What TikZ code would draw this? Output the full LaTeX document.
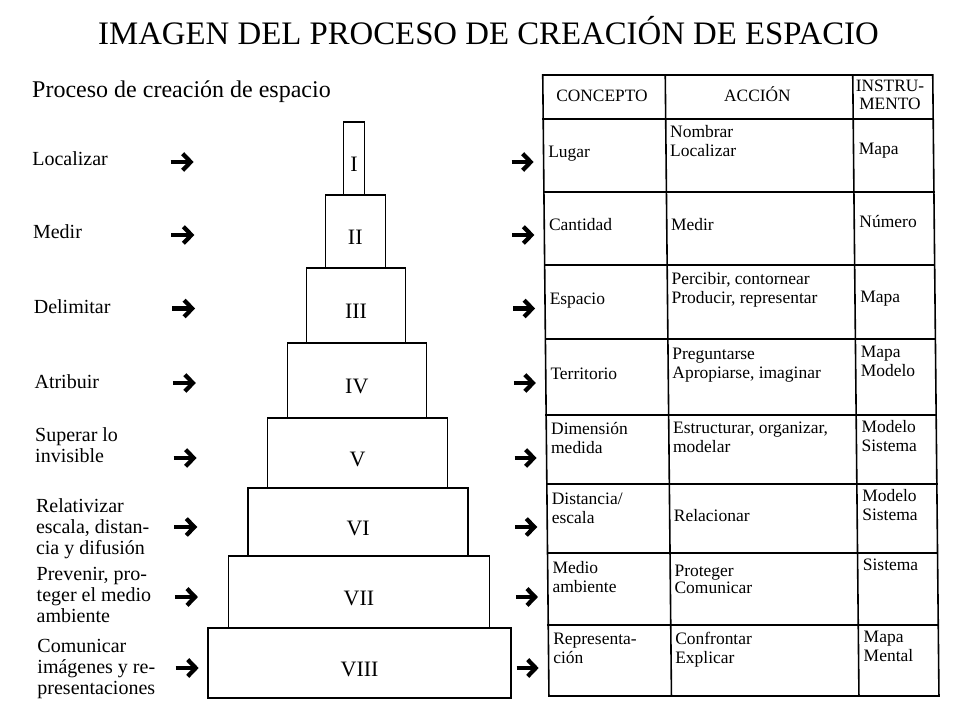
\documentclass[tikz,border=0pt]{standalone}
\usepackage{fontspec}
\setmainfont{Liberation Serif}
\usepackage{tikz}
\usetikzlibrary{calc, arrows.meta}
\tikzset{
    titlenode/.style = {draw=none, fill=none, rectangle, inner sep=0em, anchor=base west},
    labelnode/.style = {draw=none, fill=none, rectangle, inner sep=0em, anchor=west, align=left,
      font=\fontsize{15pt}{15.75pt}\selectfont},
    stepnode/.style = {draw, rectangle, fill=none, inner sep=0em, line width=1.1pt,
      text height=20pt, text depth=0pt, font=\fontsize{16.5pt}{18pt}\selectfont},
    cellnode/.style = {draw=none, fill=none, rectangle, inner sep=0em, anchor=west, align=left,
      font=\fontsize{13.1pt}{14.25pt}\selectfont},
    headnode/.style = {cellnode, anchor=center, align=center, font=\fontsize{13pt}{13.5pt}\selectfont},
    bigarrow/.style = {line width=3.6pt, -{Straight Barb[length=6pt, width=12.5pt, line width=3.2pt]}},
    gridline/.style = {line width=1.2pt, line cap=rect}
}

\begin{document}
\begin{tikzpicture}[x=0.75pt, y=-0.75pt]
    \path [use as bounding box, fill=white] (0,0) rectangle (960,720);
    \begin{scope}[xslant=-0.01]
    % titles
    \node [name = T, titlenode, font=\fontsize{24.6pt}{28pt}\selectfont] at (97.5,44.5) {IMAGEN DEL PROCESO DE CREACIÓN DE ESPACIO};
    \node [name = S, titlenode, font=\fontsize{18pt}{20pt}\selectfont] at (31,98) {Proceso de creación de espacio};

    % left column
    \node [name = L1, labelnode] at (30.5,158.2) {Localizar};
    \node [name = L2, labelnode] at (30.5,231.2) {Medir};
    \node [name = L3, labelnode] at (30.5,306.2) {Delimitar};
    \node [name = L4, labelnode] at (30.5,381.2) {Atribuir};
    \node [name = L5, labelnode] at (30.5,445.5) {Superar lo\\invisible};
    \node [name = L6, labelnode] at (30.5,528.8) {Relativizar\\escala, distan-\\cia y difusión};
    \node [name = L7, labelnode] at (30.5,594.6) {Prevenir, pro-\\teger el medio\\ambiente};
    \node [name = L8, labelnode] at (30.5,668.8) {Comunicar\\imágenes y re-\\presentaciones};

    % pyramid
    \node [name = P1, stepnode, minimum width=15.75pt, minimum height=54.75pt] at (352.5,158.5) {I};
    \node [name = P2, stepnode, minimum width=45pt, minimum height=54.75pt] at (353,231.5) {II};
    \node [name = P3, stepnode, minimum width=74.25pt, minimum height=56.25pt] at (353,305.5) {III};
    \node [name = P4, stepnode, minimum width=104.25pt, minimum height=56.25pt] at (353,380.5) {IV};
    \node [name = P5, stepnode, minimum width=135pt, minimum height=52.5pt] at (353,453) {V};
    \node [name = P6, stepnode, minimum width=165pt, minimum height=51pt] at (353,522) {VI};
    \node [name = P7, stepnode, minimum width=195.75pt, minimum height=54pt] at (353,592) {VII};
    \node [name = P8, stepnode, minimum width=227.25pt, minimum height=52.5pt] at (353,663) {VIII};

    % arrows
    \draw [bigarrow] ($(P1)+(-183.5,3.5)$) -- ++(23,0);
    \draw [bigarrow] ($(P2)+(-184,3.5)$) -- ++(23,0);
    \draw [bigarrow] ($(P3)+(-184,3)$) -- ++(23,0);
    \draw [bigarrow] ($(P4)+(-184,2.5)$) -- ++(23,0);
    \draw [bigarrow] ($(P5)+(-184,5)$) -- ++(23,0);
    \draw [bigarrow] ($(P6)+(-184,5)$) -- ++(23,0);
    \draw [bigarrow] ($(P7)+(-184,5)$) -- ++(23,0);
    \draw [bigarrow] ($(P8)+(-184,5)$) -- ++(23,0);
    \draw [bigarrow] ($(P1)+(157.5,3.5)$) -- ++(22,0);
    \draw [bigarrow] ($(P2)+(157,3.5)$) -- ++(22,0);
    \draw [bigarrow] ($(P3)+(157,3)$) -- ++(22,0);
    \draw [bigarrow] ($(P4)+(157,2.5)$) -- ++(22,0);
    \draw [bigarrow] ($(P5)+(157,5)$) -- ++(22,0);
    \draw [bigarrow] ($(P6)+(157,5)$) -- ++(22,0);
    \draw [bigarrow] ($(P7)+(157,5)$) -- ++(22,0);
    \draw [bigarrow] ($(P8)+(157,5)$) -- ++(22,0);

    % table grid
    \draw [gridline] (542,75) -- (932,75) -- (932,696) -- (542,696) -- cycle;
    \draw [gridline] (664.5,75) -- (664.5,696);
    \draw [gridline] (852,75) -- (852,696);
    \draw [gridline] (542,119) -- (932,119);
    \draw [gridline] (542,192) -- (932,192);
    \draw [gridline] (542,265) -- (932,265);
    \draw [gridline] (542,339) -- (932,339);
    \draw [gridline] (542,415) -- (932,415);
    \draw [gridline] (542,484) -- (932,484);
    \draw [gridline] (542,553) -- (932,553);
    \draw [gridline] (542,625) -- (932,625);

    % table header
    \node [name = C0, headnode] at (601,96) {CONCEPTO};
    \node [name = A0, headnode] at (756.5,93.7) {ACCIÓN};
    \node [name = I0, headnode] at (889,95.2) {INSTRU-\\MENTO};

    % table cells
    \node [name = C1, cellnode] at (546.5,154) {Lugar};
    \node [name = A1, cellnode] at (668.5,141.5) {Nombrar\\Localizar};
    \node [name = I1, cellnode] at (857,151) {Mapa};
    \node [name = C2, cellnode] at (546.5,225) {Cantidad};
    \node [name = A2, cellnode] at (668.5,225) {Medir};
    \node [name = I2, cellnode] at (857,222) {Número};
    \node [name = C3, cellnode] at (546.5,301) {Espacio};
    \node [name = A3, cellnode] at (668.5,289.4) {Percibir, contornear\\Producir, representar};
    \node [name = I3, cellnode] at (857,299) {Mapa};
    \node [name = C4, cellnode] at (546.5,374) {Territorio};
    \node [name = A4, cellnode] at (668.5,365) {Preguntarse\\Apropiarse, imaginar};
    \node [name = I4, cellnode] at (857,361.7) {Mapa\\Modelo};
    \node [name = C5, cellnode] at (546.5,438.5) {Dimensión\\medida};
    \node [name = A5, cellnode] at (668.5,437.7) {Estructurar, organizar,\\modelar};
    \node [name = I5, cellnode] at (857,436.5) {Modelo\\Sistema};
    \node [name = C6, cellnode] at (546.5,508) {Distancia/\\escala};
    \node [name = A6, cellnode] at (668.5,516) {Relacionar};
    \node [name = I6, cellnode] at (857,505.5) {Modelo\\Sistema};
    \node [name = C7, cellnode] at (546.5,577.5) {Medio\\ambiente};
    \node [name = A7, cellnode] at (668.5,579.5) {Proteger\\[-1.5pt]Comunicar};
    \node [name = I7, cellnode] at (857,565) {Sistema};
    \node [name = C8, cellnode] at (546.5,648.7) {Representa-\\ción};
    \node [name = A8, cellnode] at (668.5,650) {Confrontar\\Explicar};
    \node [name = I8, cellnode] at (857,646.7) {Mapa\\Mental};
    \end{scope}
\end{tikzpicture}
\end{document}
